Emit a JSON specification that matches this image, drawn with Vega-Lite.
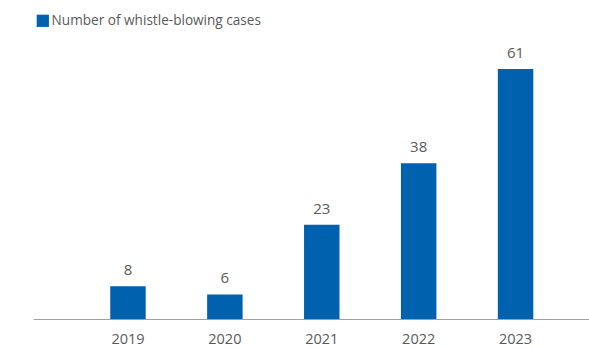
{
  "$schema": "https://vega.github.io/schema/vega-lite/v6.json",
  "width": 556,
  "height": 319,
  "autosize": {"type": "none"},
  "padding": {"left": 33, "top": 0, "right": 0, "bottom": 30},
  "background": "white",
  "config": {
    "view": {"stroke": null},
    "font": "Open Sans"
  },
  "data": {
    "values": [
      {"year": "2019", "cases": 8, "series": "Number of whistle-blowing cases"},
      {"year": "2020", "cases": 6, "series": "Number of whistle-blowing cases"},
      {"year": "2021", "cases": 23, "series": "Number of whistle-blowing cases"},
      {"year": "2022", "cases": 38, "series": "Number of whistle-blowing cases"},
      {"year": "2023", "cases": 61, "series": "Number of whistle-blowing cases"}
    ]
  },
  "encoding": {
    "x": {
      "field": "year",
      "type": "ordinal",
      "scale": {"paddingInner": 0.634, "paddingOuter": 0.686, "align": 0.581},
      "axis": {
        "title": null,
        "labelAngle": 0,
        "ticks": false,
        "domainColor": "#a0a0a0",
        "domainWidth": 1.2,
        "labelColor": "#5a5a5a",
        "labelFont": "Open Sans",
        "labelFontSize": 14.5,
        "labelPadding": 13,
        "grid": false
      }
    },
    "y": {
      "field": "cases",
      "type": "quantitative",
      "scale": {"domain": [0, 77.8], "nice": false},
      "axis": null
    }
  },
  "layer": [
    {
      "mark": {"type": "bar", "color": "#0061ae"},
      "encoding": {
        "color": {
          "field": "series",
          "type": "nominal",
          "scale": {"range": ["#0061ae"]},
          "legend": {
            "title": null,
            "orient": "none",
            "legendX": 3,
            "legendY": 14,
            "symbolType": "square",
            "symbolSize": 150,
            "symbolStrokeWidth": 0,
            "labelFont": "Open Sans",
            "labelFontSize": 13.6,
            "labelColor": "#5a5a5a",
            "labelOffset": 2,
            "labelLimit": 0,
            "padding": 0
          }
        }
      }
    },
    {
      "mark": {"type": "text", "baseline": "bottom", "dy": -8, "fontSize": 15, "color": "#5a5a5a", "font": "Open Sans"},
      "encoding": {"text": {"field": "cases", "type": "quantitative"}}
    }
  ]
}
